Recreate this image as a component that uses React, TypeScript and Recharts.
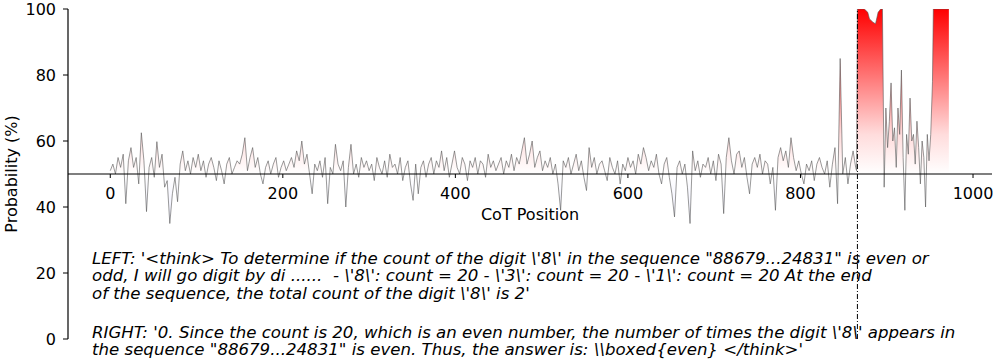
import React from 'react'
import {
  ComposedChart,
  Area,
  XAxis,
  YAxis,
  ReferenceLine,
  ReferenceDot
} from 'recharts'

// values read every 3 CoT positions, 0..864
const STEP = 3
const earlyProbs = [
  51, 53, 50, 55, 52, 56, 41, 54, 58, 52,
  55, 47, 62.5, 54, 38.6, 52, 55, 49, 59.8, 52,
  56, 46, 48, 35, 44, 49, 41.6, 53, 57, 51,
  54, 50, 55, 52, 56, 51, 54, 49, 53, 55,
  52, 48, 54, 51, 47, 53, 55, 50, 52, 54,
  53, 56, 61, 51, 55, 58, 52, 55, 50, 47,
  52, 54, 50, 53, 55, 49, 52, 54, 51, 53,
  55, 52, 57, 54, 60, 53, 56, 50, 44, 53,
  51, 54, 49, 55, 41, 52, 50, 59, 53, 51,
  54, 40, 52, 59, 50, 53, 49, 55, 52, 54,
  51, 53, 48, 55, 52, 50, 54, 49, 56, 52,
  53, 50, 55, 48, 52, 54, 47, 42, 53, 44,
  52, 54, 49, 53, 55, 50, 54, 52, 57, 51,
  55, 49, 53, 57, 52, 50, 55, 53, 48, 54,
  52, 55, 50, 54, 53, 49, 56, 52, 54, 51,
  53, 55, 50, 54, 52, 56, 51, 55, 53, 57,
  61, 53, 56, 60, 52, 55, 57, 51, 54, 52,
  55, 50, 53, 47, 39, 54, 52, 55, 50, 53,
  56, 51, 54, 49, 45, 58, 52, 55, 50, 53,
  54, 51, 48, 55, 52, 50, 54, 47, 53, 51,
  55, 52, 54, 50, 56, 53, 58, 55, 51, 54,
  52, 56, 50, 47, 53, 55, 49, 44, 37, 52,
  54, 50, 53, 46, 35, 57, 51, 54, 49, 53,
  52, 55, 50, 54, 48, 56, 53, 38, 55, 61,
  54, 50, 56, 57, 52, 55, 49, 44, 53, 55,
  52, 56, 50, 54, 53, 47, 52, 39, 55, 58,
  54, 57, 52, 61, 55, 51, 54, 50, 47, 53,
  51, 54, 48, 53, 55, 52, 50, 54, 46, 53,
  58, 41, 85, 50, 55, 47, 53, 57, 52
]

// tail after the split point, read at irregular positions
const tailPositions = [
  865, 866, 870, 874, 878, 880, 884, 887, 890, 893, 895,
  897, 899, 901, 903, 905, 907, 909, 911, 913, 915, 917, 919, 921, 923,
  925, 927, 929, 931, 933, 935, 937, 939, 941, 943, 945, 947, 949, 951, 953,
  954, 960, 966, 972
]
const tailProbs = [
  51, 100, 100, 100, 99, 97, 96, 95.5, 99, 100, 100,
  46, 70, 58, 66, 77.6, 60, 64, 52, 70, 62, 81.5, 55, 39, 62,
  56, 73, 60, 62, 53, 66, 58, 47, 60, 55, 40, 62, 54, 62, 78,
  100, 100, 100, 100
]

const splitPos = 866
const xTicks = [0, 200, 400, 600, 800, 1000]
const yTicks = [0, 20, 40, 60, 80, 100]

const leftLines = [
  String.raw`LEFT: '<think> To determine if the count of the digit \'8\' in the sequence "88679...24831" is even or`,
  String.raw`odd, I will go digit by di ......  - \'8\': count = 20 - \'3\': count = 20 - \'1\': count = 20 At the end`,
  String.raw`of the sequence, the total count of the digit \'8\' is 2'`
]
const rightLines = [
  String.raw`RIGHT: '0. Since the count is 20, which is an even number, the number of times the digit \'8\' appears in`,
  String.raw`the sequence "88679...24831" is even. Thus, the answer is: \\boxed{even} </think>'`
]

const data = [
  ...earlyProbs.map((v, i) => ({ x: i * STEP, v })),
  ...tailPositions.map((x, i) => ({ x, v: tailProbs[i] }))
]

const W = 996
const H = 363
const margin = { top: 9, right: 4, bottom: 24, left: 0 }
const plotTop = margin.top
const plotBottom = H - margin.bottom
const font = '"DejaVu Sans", sans-serif'
const noteSize = 16.6

function XTick(props: any) {
  const { cx, cy, label } = props
  return (
    <g>
      <line x1={cx} y1={cy} x2={cx} y2={cy + 4} stroke="#000" strokeWidth={1} />
      <text x={cx} y={cy + 24.5} textAnchor="middle" fontSize={16} fontFamily={font} fill="#000">
        {label}
      </text>
    </g>
  )
}

export default function App() {
  return (
    <div style={{ position: 'absolute', left: 0, top: 0, width: W, height: H, background: '#fff' }}>
      <ComposedChart width={W} height={H} data={data} margin={margin}>
        <defs>
          <linearGradient id="probFill" gradientUnits="userSpaceOnUse" x1={0} y1={plotTop} x2={0} y2={plotBottom}>
            <stop offset="0" stopColor="#ff0000" />
            <stop offset="0.38" stopColor="#ffdcdc" />
            <stop offset="0.5" stopColor="#ffffff" />
            <stop offset="0.62" stopColor="#f2f2ff" />
            <stop offset="1" stopColor="#b0b0ff" />
          </linearGradient>
        </defs>
        <XAxis dataKey="x" type="number" domain={[-49, 1022]} hide />
        <YAxis
          width={68}
          domain={[0, 100]}
          ticks={yTicks}
          tickSize={5}
          tickMargin={7}
          tick={{ fontSize: 16, fontFamily: font, fill: '#000' }}
          axisLine={{ stroke: '#000', strokeWidth: 1.2 }}
          tickLine={{ stroke: '#000', strokeWidth: 1 }}
          allowDataOverflow
        />
        <Area
          type="linear"
          dataKey="v"
          baseValue={50}
          stroke="#555"
          strokeWidth={0.6}
          fill="url(#probFill)"
          fillOpacity={1}
          dot={false}
          isAnimationActive={false}
        />
        <ReferenceLine y={50} stroke="#000" strokeWidth={1.2} />
        <ReferenceLine x={splitPos} stroke="#000" strokeWidth={1} strokeDasharray="5 2 1 2" />
        {xTicks.map(t => (
          <ReferenceDot
            key={t}
            x={t}
            y={50}
            r={0}
            shape={(p: any) => <XTick {...p} label={String(t)} />}
          />
        ))}
        <ReferenceDot
          x={486.5}
          y={50}
          r={0}
          shape={(p: any) => (
            <text x={p.cx} y={p.cy + 46} textAnchor="middle" fontSize={16} fontFamily={font} fill="#000">
              CoT Position
            </text>
          )}
        />
      </ComposedChart>
      <svg width={W} height={H} style={{ position: 'absolute', left: 0, top: 0, pointerEvents: 'none' }}>
        <text
          x={17}
          y={174}
          transform="rotate(-90 17 174)"
          textAnchor="middle"
          fontSize={16}
          fontFamily={font}
          fill="#000"
        >
          Probability (%)
        </text>
        {leftLines.map((s, i) => (
          <text key={'l' + i} x={92} y={263.5 + i * 17.5} fontSize={noteSize} fontStyle="italic" fontFamily={font} fill="#000" style={{ whiteSpace: 'pre' }}>
            {s}
          </text>
        ))}
        {rightLines.map((s, i) => (
          <text key={'r' + i} x={92} y={337.5 + i * 17.5} fontSize={noteSize} fontStyle="italic" fontFamily={font} fill="#000" style={{ whiteSpace: 'pre' }}>
            {s}
          </text>
        ))}
      </svg>
    </div>
  )
}
